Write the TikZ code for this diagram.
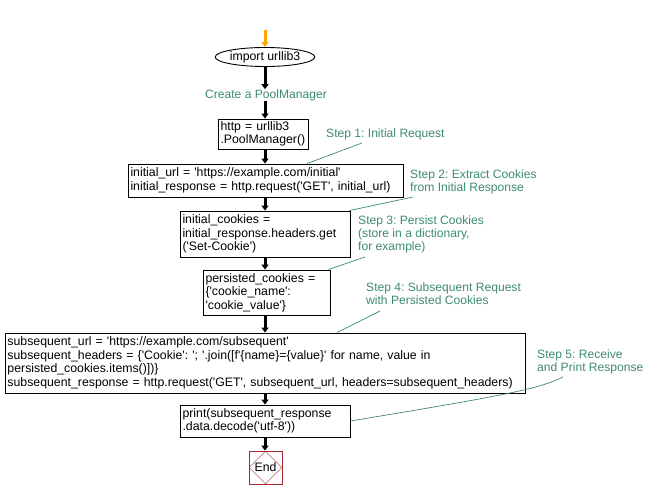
\documentclass[tikz,border=0pt]{standalone}
\usepackage{fontspec}
\setmainfont{Liberation Sans}[Ligatures=TeXOff]
\usetikzlibrary{shapes.geometric,arrows.meta}
\definecolor{stepgreen}{RGB}{61,139,110}
\definecolor{endred}{RGB}{165,42,42}
\definecolor{startorange}{RGB}{255,165,0}
\frenchspacing
\begin{document}
\begin{tikzpicture}[x=1pt,y=-1pt,
  txt/.style={font=\fontsize{12.3}{13.5}\selectfont},
  box/.style={txt,draw,line width=0.9pt,inner xsep=2.5pt,inner ysep=1.5pt,align=left},
  lbl/.style={font=\fontsize{12.1}{12.9}\selectfont,text=stepgreen,align=left,inner sep=0pt,anchor=west},
  flow/.style={line width=3pt,-{Triangle[length=5pt,width=7pt]}},
  conn/.style={stepgreen,line width=0.7pt}]
\useasboundingbox (0,0) rectangle (657,498);
% start
\node[txt,draw,ellipse,line width=0.9pt,minimum width=88pt,minimum height=19pt,inner sep=0pt] (imp) at (265,57) {import urllib3};
\coordinate (st) at (265,30);
\draw[flow,startorange] (st) -- (imp.north);
\node[lbl,anchor=center] (cpm) at (266,95) {Create a PoolManager};
\draw[flow] (imp.south) -- (imp.south |- cpm.north);
% boxes
\node[box,text width=85pt,minimum height=30pt] (b1) at (263,134) {http = urllib3\\.PoolManager()};
\draw[flow] (cpm.south -| imp.south) -- (imp.south |- b1.north);
\node[box,text width=270pt,minimum height=33pt] (b2) at (265.5,180.5) {initial\_url = 'https://example.com/initial'\\initial\_response = http.request('GET', initial\_url)};
\node[box,text width=165pt,minimum height=46pt] (b3) at (265,234) {initial\_cookies =\\initial\_response.headers.get\\('Set-Cookie')};
\node[box,text width=122pt,minimum height=45pt] (b4) at (266.5,292.5) {persisted\_cookies =\\\{'cookie\_name':\\'cookie\_value'\}};
\node[box,text width=515pt,minimum height=60pt] (b5) at (265,363) {subsequent\_url = 'https://example.com/subsequent'\\subsequent\_headers = \{'Cookie': '; '.join([f'\{name\}=\{value\}' for name, value in\\persisted\_cookies.items()])\}\\subsequent\_response = http.request('GET', subsequent\_url, headers=subsequent\_headers)};
\node[box,text width=165pt,minimum height=32pt] (b6) at (265,421) {print(subsequent\_response\\.data.decode('utf-8'))};
\node[draw=endred,line width=0.8pt,minimum size=33pt,inner sep=0pt] (end) at (265.5,467.5) {};
\node[txt,draw=endred,diamond,line width=0.4pt,minimum size=33pt,inner sep=0pt] (endd) at (end.center) {End};
\draw[flow] (b1.south -| imp.south) -- (imp.south |- b2.north);
\draw[flow] (b2.south -| imp.south) -- (imp.south |- b3.north);
\draw[flow] (b3.south -| imp.south) -- (imp.south |- b4.north);
\draw[flow] (b4.south -| imp.south) -- (imp.south |- b5.north);
\draw[flow] (b5.south -| imp.south) -- (imp.south |- b6.north);
\draw[flow] (b6.south -| imp.south) -- (imp.south |- end.north);
% step labels
\node[lbl] (s1) at (326,134) {Step 1: Initial Request};
\node[lbl] (s2) at (410,181.5) {Step 2: Extract Cookies\\from Initial Response};
\node[lbl] (s3) at (358,234.5) {Step 3: Persist Cookies\\(store in a dictionary,\\for example)};
\node[lbl] (s4) at (366,293.5) {Step 4: Subsequent Request\\with Persisted Cookies};
\node[lbl] (s5) at (537,361.5) {Step 5: Receive\\and Print Response};
\coordinate (c1) at (362,143);
\coordinate (c2) at (413,197);
\coordinate (c3) at (365,257);
\coordinate (c4) at (380,311);
\coordinate (c5) at (563,377);
\draw[conn] (c1) -- ([xshift=41.5pt]b2.north);
\draw[conn] (c2) -- ([xshift=-1pt]b3.north east);
\draw[conn] (c3) -- ([xshift=-2pt]b4.north east);
\draw[conn] (c4) -- ([xshift=72pt]b5.north);
\draw[conn] (c5) .. controls (540,388) and (520,393) .. (b6.east);
\end{tikzpicture}
\end{document}
